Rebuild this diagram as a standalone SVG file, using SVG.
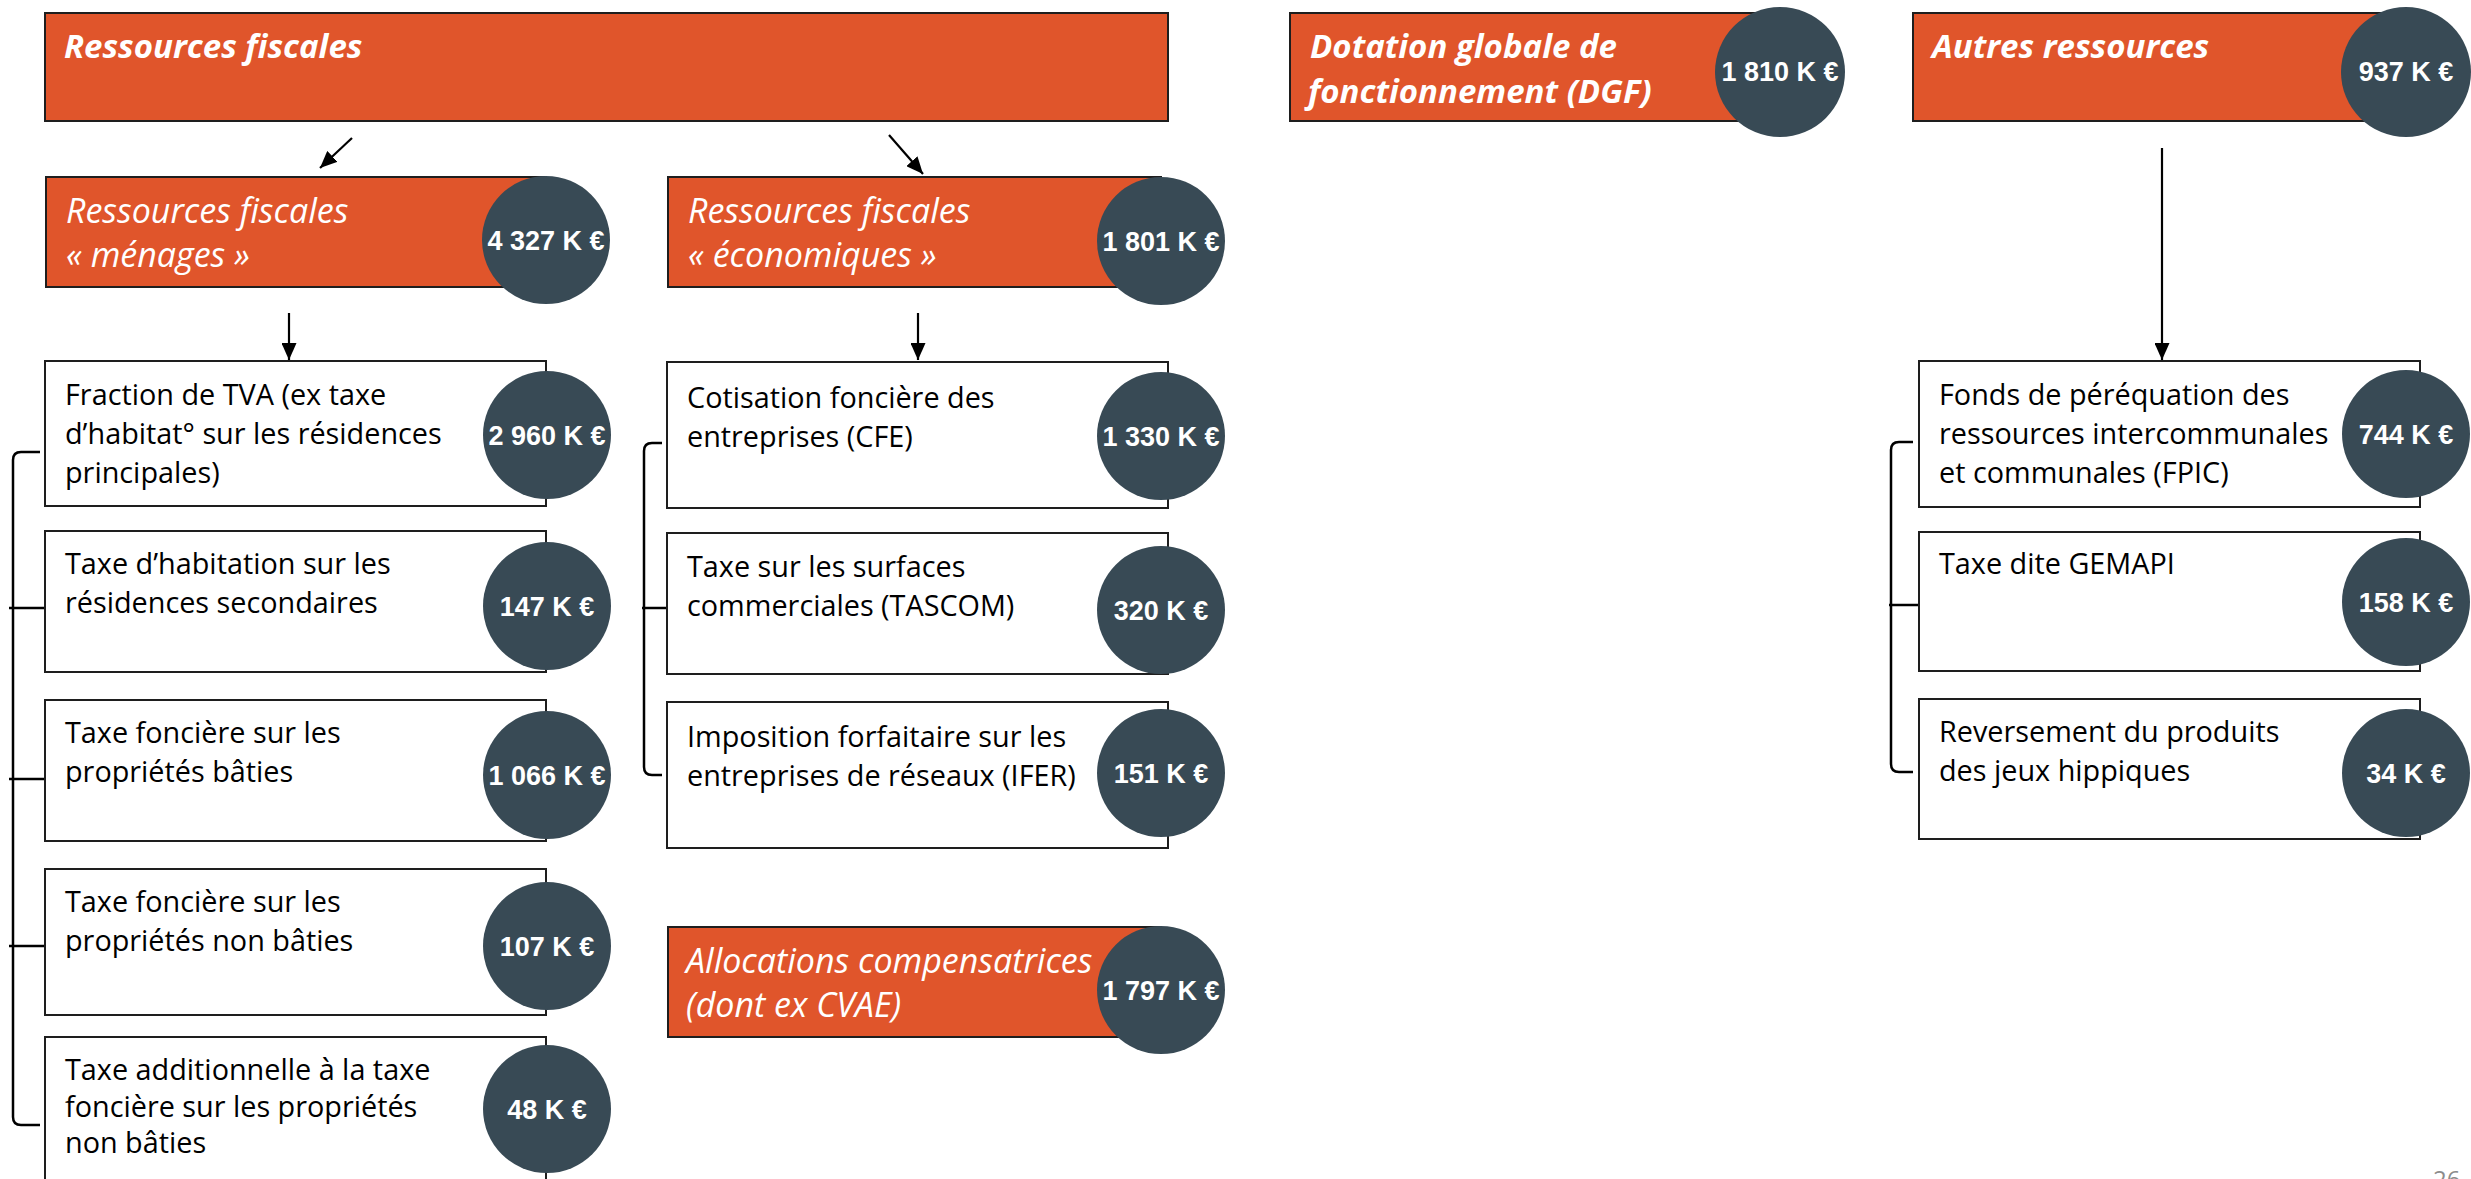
<svg xmlns="http://www.w3.org/2000/svg" width="2471" height="1179" viewBox="0 0 2471 1179">
<style>
.ob{fill:#E0552B;stroke:#1E1E1E;stroke-width:2}
.wb{fill:#FFFFFF;stroke:#1E1E1E;stroke-width:2}
.c{fill:#384A55}
.n{font-family:"Liberation Sans",Arial,sans-serif;font-weight:bold;font-size:27px;fill:#FFFFFF;text-anchor:middle}
.t1{font-family:"Open Sans",sans-serif;font-weight:bold;font-style:italic;font-size:33px;fill:#FFFFFF}
.t2{font-family:"Open Sans",sans-serif;font-style:italic;font-size:34px;fill:#FFFFFF}
.b{font-family:"Open Sans",sans-serif;font-size:28.8px;fill:#000000}
.ln{stroke:#000000;stroke-width:2.2;fill:none}
.br{stroke:#000000;stroke-width:2.5;fill:none}
.pg{font-family:"Open Sans",sans-serif;font-size:24px;fill:#8C8C8C}
</style>
<defs>
<marker id="ah" viewBox="0 0 17 15" refX="17" refY="7.5" markerWidth="17" markerHeight="15" markerUnits="userSpaceOnUse" orient="auto">
<path d="M0,0 L17,7.5 L0,15 z" fill="#000000"/>
</marker>
</defs>
<rect width="2471" height="1179" fill="#FFFFFF"/>

<g id="connectors">
<path class="ln" d="M352,138 L320,168" marker-end="url(#ah)"/>
<path class="ln" d="M889,135 L923,174" marker-end="url(#ah)"/>
<path class="ln" d="M289,313 V360" marker-end="url(#ah)"/>
<path class="ln" d="M918,313 V360" marker-end="url(#ah)"/>
<path class="ln" d="M2162,148 V360" marker-end="url(#ah)"/>
<path class="br" d="M40,452 H21 Q13,452 13,460 V1117 Q13,1125 21,1125 H40"/>
<path class="br" d="M9,608 H45 M9,779 H45 M9,946 H45"/>
<path class="br" d="M662,443 H652 Q644,443 644,451 V767 Q644,775 652,775 H662"/>
<path class="br" d="M642,608 H667"/>
<path class="br" d="M1913,442 H1899 Q1891,442 1891,450 V764 Q1891,772 1899,772 H1913"/>
<path class="br" d="M1889,605 H1919"/>
</g>

<g id="ressources-fiscales">
<rect class="ob" x="45" y="13" width="1123" height="108"/>
<text class="t1" x="64" y="58">Ressources fiscales</text>
</g>

<g id="dgf">
<rect class="ob" x="1290" y="13" width="490" height="108"/>
<text class="t1" x="1310" y="58">Dotation globale de</text>
<text class="t1" x="1308" y="103">fonctionnement (DGF)</text>
<circle class="c" cx="1780" cy="72" r="65"/>
<text class="n" x="1780" y="81">1 810 K €</text>
</g>

<g id="autres-ressources">
<rect class="ob" x="1913" y="13" width="493" height="108"/>
<text class="t1" x="1932" y="58">Autres ressources</text>
<circle class="c" cx="2406" cy="72" r="65"/>
<text class="n" x="2406" y="81">937 K €</text>
</g>

<g id="menages">
<rect class="ob" x="46" y="177" width="500" height="110"/>
<text class="t2" x="66" y="223">Ressources fiscales</text>
<text class="t2" x="66" y="267">« ménages »</text>
<circle class="c" cx="546" cy="240" r="64"/>
<text class="n" x="546" y="250">4 327 K €</text>
</g>

<g id="economiques">
<rect class="ob" x="668" y="177" width="493" height="110"/>
<text class="t2" x="688" y="223">Ressources fiscales</text>
<text class="t2" x="688" y="267">« économiques »</text>
<circle class="c" cx="1161" cy="241" r="64"/>
<text class="n" x="1161" y="251">1 801 K €</text>
</g>

<g id="tva">
<rect class="wb" x="45" y="361" width="501" height="145"/>
<text class="b" x="65" y="405">Fraction de TVA (ex taxe</text>
<text class="b" x="65" y="444">d’habitat° sur les résidences</text>
<text class="b" x="65" y="483">principales)</text>
<circle class="c" cx="547" cy="435" r="64"/>
<text class="n" x="547" y="445">2 960 K €</text>
</g>

<g id="th-secondaires">
<rect class="wb" x="45" y="531" width="501" height="141"/>
<text class="b" x="65" y="574">Taxe d’habitation sur les</text>
<text class="b" x="65" y="613">résidences secondaires</text>
<circle class="c" cx="547" cy="606" r="64"/>
<text class="n" x="547" y="616">147 K €</text>
</g>

<g id="tfpb">
<rect class="wb" x="45" y="700" width="501" height="141"/>
<text class="b" x="65" y="743">Taxe foncière sur les</text>
<text class="b" x="65" y="782">propriétés bâties</text>
<circle class="c" cx="547" cy="775" r="64"/>
<text class="n" x="547" y="785">1 066 K €</text>
</g>

<g id="tfpnb">
<rect class="wb" x="45" y="869" width="501" height="146"/>
<text class="b" x="65" y="912">Taxe foncière sur les</text>
<text class="b" x="65" y="951">propriétés non bâties</text>
<circle class="c" cx="547" cy="946" r="64"/>
<text class="n" x="547" y="956">107 K €</text>
</g>

<g id="taxe-additionnelle">
<rect class="wb" x="45" y="1037" width="501" height="170"/>
<text class="b" x="65" y="1080">Taxe additionnelle à la taxe</text>
<text class="b" x="65" y="1117">foncière sur les propriétés</text>
<text class="b" x="65" y="1153">non bâties</text>
<circle class="c" cx="547" cy="1109" r="64"/>
<text class="n" x="547" y="1119">48 K €</text>
</g>

<g id="cfe">
<rect class="wb" x="667" y="362" width="501" height="146"/>
<text class="b" x="687" y="408">Cotisation foncière des</text>
<text class="b" x="687" y="447">entreprises (CFE)</text>
<circle class="c" cx="1161" cy="436" r="64"/>
<text class="n" x="1161" y="446">1 330 K €</text>
</g>

<g id="tascom">
<rect class="wb" x="667" y="533" width="501" height="141"/>
<text class="b" x="687" y="577">Taxe sur les surfaces</text>
<text class="b" x="687" y="616">commerciales (TASCOM)</text>
<circle class="c" cx="1161" cy="610" r="64"/>
<text class="n" x="1161" y="620">320 K €</text>
</g>

<g id="ifer">
<rect class="wb" x="667" y="702" width="501" height="146"/>
<text class="b" x="687" y="747">Imposition forfaitaire sur les</text>
<text class="b" x="687" y="786">entreprises de réseaux (IFER)</text>
<circle class="c" cx="1161" cy="773" r="64"/>
<text class="n" x="1161" y="783">151 K €</text>
</g>

<g id="allocations">
<rect class="ob" x="668" y="927" width="493" height="110"/>
<text class="t2" x="686" y="973">Allocations compensatrices</text>
<text class="t2" x="686" y="1017">(dont ex CVAE)</text>
<circle class="c" cx="1161" cy="990" r="64"/>
<text class="n" x="1161" y="1000">1 797 K €</text>
</g>

<g id="fpic">
<rect class="wb" x="1919" y="361" width="501" height="146"/>
<text class="b" x="1939" y="405">Fonds de péréquation des</text>
<text class="b" x="1939" y="444">ressources intercommunales</text>
<text class="b" x="1939" y="483">et communales (FPIC)</text>
<circle class="c" cx="2406" cy="434" r="64"/>
<text class="n" x="2406" y="444">744 K €</text>
</g>

<g id="gemapi">
<rect class="wb" x="1919" y="532" width="501" height="139"/>
<text class="b" x="1939" y="574">Taxe dite GEMAPI</text>
<circle class="c" cx="2406" cy="602" r="64"/>
<text class="n" x="2406" y="612">158 K €</text>
</g>

<g id="jeux-hippiques">
<rect class="wb" x="1919" y="699" width="501" height="140"/>
<text class="b" x="1939" y="742">Reversement du produits</text>
<text class="b" x="1939" y="781">des jeux hippiques</text>
<circle class="c" cx="2406" cy="773" r="64"/>
<text class="n" x="2406" y="783">34 K €</text>
</g>

<g id="page-number">
<text class="pg" x="2433" y="1188">26</text>
</g>
</svg>
